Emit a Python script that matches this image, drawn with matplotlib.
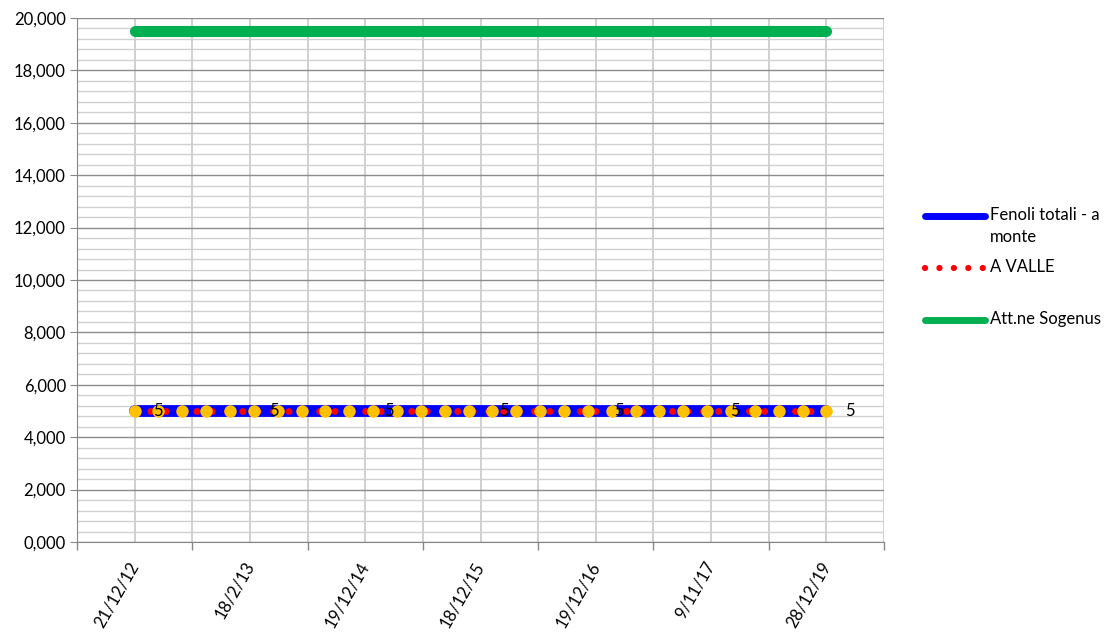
import matplotlib
matplotlib.use('Agg')
import matplotlib.pyplot as plt
from matplotlib.lines import Line2D
from matplotlib.ticker import MultipleLocator, FuncFormatter

dates = ['21/12/12', '18/2/13', '19/12/14', '18/12/15', '19/12/16', '9/11/17', '28/12/19']
monte = [5, 5, 5, 5, 5, 5, 5]
valle = [5, 5, 5, 5, 5, 5, 5]
sogenus = [19.5, 19.5, 19.5, 19.5, 19.5, 19.5, 19.5]
# secondary series with the orange dots (30 samples)
campioni = [5] * 30

W, H = 1113, 639
fig = plt.figure(figsize=(W / 100, H / 100), dpi=100)
plt.rcParams['font.family'] = ['Lato', 'DejaVu Sans']
ax = fig.add_axes([77 / W, 97 / H, 807 / W, 524 / H])

x = list(range(len(dates)))
ax.plot(x, sogenus, color='#00b050', lw=8, solid_capstyle='round', zorder=3)
ax.plot(x, monte, color='#0000ff', lw=8.5, solid_capstyle='round', zorder=3)
ax.plot(x, valle, color='#ff0000', lw=5, linestyle=(0, (0.01, 2.2)),
        dash_capstyle='round', zorder=4)

ax.set_xlim(-0.5, len(dates) - 0.5)
ax.set_ylim(0, 20)

ax.set_xticks(x)
ax.set_xticklabels(dates, rotation=60, ha='right', va='center',
                   rotation_mode='anchor', fontsize=12)
ax.xaxis.set_minor_locator(MultipleLocator(1, offset=0.5))
ax.tick_params(axis='x', which='major', length=0, pad=15)
ax.tick_params(axis='x', which='minor', length=6, color='#868686', width=1)

ax.yaxis.set_major_locator(MultipleLocator(2))
ax.yaxis.set_minor_locator(MultipleLocator(0.4))
ax.yaxis.set_major_formatter(FuncFormatter(lambda v, p: f'{v:.3f}'.replace('.', ',')))
ax.tick_params(axis='y', which='major', length=5, color='#868686', labelsize=12, pad=3)
ax.tick_params(axis='y', which='minor', length=0)

ax.grid(True, axis='y', which='major', color='#8c8c8c', lw=1)
ax.grid(True, axis='y', which='minor', color='#d0d0d0', lw=1)
ax.grid(True, axis='x', which='both', color='#c8c8c8', lw=1.2)
ax.set_axisbelow(True)
for s in ['top', 'right']:
    ax.spines[s].set_visible(False)
for s in ['left', 'bottom']:
    ax.spines[s].set_color('#868686')

# orange points on their own category axis (30 samples spanning the same range)
ax2 = ax.twiny()
n = len(campioni)
k = (n - 1) / (len(dates) - 1)
ax2.set_xlim(-0.5 * k, (len(dates) - 0.5) * k)
ax2.plot(range(n), campioni, 'o', color='#ffc000', ms=9, mec='none', zorder=5)
ax2.set_axis_off()

for xi, v in zip(x, monte):
    ax2.annotate(f'{v:g}', xy=(xi, v), xycoords=ax.transData, xytext=(17, 0),
                 textcoords='offset points', ha='center', va='center', fontsize=12,
                 zorder=6)

# legend
def fx(px):
    return px / W

def fy(py):
    return 1 - py / H

leg = [('Fenoli totali - a\nmonte', dict(color='#0000ff', lw=5, solid_capstyle='round'), 216, 985),
       ('A VALLE', dict(color='#ff0000', lw=4.5, linestyle=(0, (0.01, 2.3)), dash_capstyle='round'), 268, 986),
       ('Att.ne Sogenus', dict(color='#00b050', lw=5, solid_capstyle='round'), 320, 985)]
for label, style, py, xend in leg:
    fig.add_artist(Line2D([fx(925), fx(xend)], [fy(py), fy(py)], transform=fig.transFigure, **style))
    fig.text(fx(990), fy(py - 9), label, ha='left', va='top', fontsize=12, linespacing=1.45)

plt.savefig('out.png', dpi=100)
